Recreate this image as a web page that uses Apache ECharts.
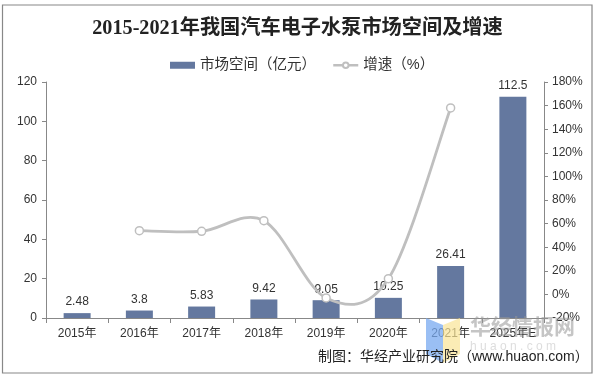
<!DOCTYPE html>
<html>
<head>
<meta charset="utf-8">
<style>
html,body{margin:0;padding:0;background:#fff;}
#graph{width:595px;height:376px;}
</style>
<script src="https://cdn.jsdelivr.net/npm/echarts@6/dist/echarts.min.js"></script>
</head>
<body>
<div id="graph"></div>
<script>
var categories = ['2015年','2016年','2017年','2018年','2019年','2020年','2021年','2025年E'];
var marketSize = [2.48,3.8,5.83,9.42,9.05,10.25,26.41,112.5];
var growthRate = [null,54,53.5,62.5,-3,13.3,158,null];

var fontName = '"Liberation Sans","Noto Sans CJK SC",sans-serif';
var lineColor = '#bfbfbf';
var myChart = echarts.init(document.getElementById('graph'));

// the source chart has spreadsheet style smoothing, it overshoots around the points
// the line series clamps its curve, so the curve is drawn here from the same values
function renderCurve(params, api) {
	if (params.dataIndex !== 0) {
		return null;
	}
	var pts = [];
	for (let i = 0; i < growthRate.length; i++) {
		if (growthRate[i] !== null) {
			pts.push(api.coord([i, growthRate[i]]));
		}
	}
	var d = 'M' + pts[0][0] + ' ' + pts[0][1];
	for (let i = 0; i < pts.length - 1; i++) {
		var p0 = pts[Math.max(i - 1, 0)];
		var p1 = pts[i];
		var p2 = pts[i + 1];
		var p3 = pts[Math.min(i + 2, pts.length - 1)];
		d += 'C' + (p1[0] + (p2[0] - p0[0]) / 6) + ' ' + (p1[1] + (p2[1] - p0[1]) / 6)
			+ ' ' + (p2[0] - (p3[0] - p1[0]) / 6) + ' ' + (p2[1] - (p3[1] - p1[1]) / 6)
			+ ' ' + p2[0] + ' ' + p2[1];
	}
	return {
		type: 'path',
		shape: {pathData: d, layout: 'cover'},
		style: {fill: 'none', stroke: lineColor, lineWidth: 2.8}
	};
}

myChart.setOption({
	animation: false,
	backgroundColor: '#fff',
	textStyle: {fontFamily: fontName},
	title: {
		text: '2015-2021年我国汽车电子水泵市场空间及增速',
		left: 'center',
		top: 14,
		textStyle: {
			fontFamily: '"Liberation Serif","Noto Sans CJK SC",serif',
			fontSize: 20.2,
			fontWeight: 'bold',
			color: '#222'
		}
	},
	legend: {
		top: 53,
		left: 165,
		itemWidth: 25,
		itemHeight: 7,
		itemGap: 16,
		textStyle: {fontSize: 14.5, color: '#333', fontFamily: fontName},
		data: [
			{name: '市场空间（亿元）', icon: 'rect'},
			{name: '增速（%）', lineStyle: {color: lineColor, width: 2.5, opacity: 1}}
		]
	},
	grid: {left: 46, right: 51, top: 82, bottom: 58},
	xAxis: {
		type: 'category',
		data: categories,
		axisLine: {lineStyle: {color: '#888'}},
		axisTick: {show: true, alignWithLabel: false, length: 5, lineStyle: {color: '#888'}},
		axisLabel: {color: '#333', fontSize: 12, margin: 10, interval: 0}
	},
	yAxis: [
		{
			type: 'value',
			min: 0,
			max: 120,
			interval: 20,
			splitLine: {show: false},
			axisLine: {show: true, lineStyle: {color: '#888'}},
			axisTick: {show: true, length: 4, lineStyle: {color: '#888'}},
			axisLabel: {color: '#333', fontSize: 12, margin: 9}
		},
		{
			type: 'value',
			min: -20,
			max: 180,
			interval: 20,
			position: 'right',
			splitLine: {show: false},
			axisLine: {show: true, lineStyle: {color: '#888'}},
			axisTick: {show: true, length: 4, lineStyle: {color: '#888'}},
			axisLabel: {color: '#333', fontSize: 12, margin: 8, formatter: '{value}%'}
		}
	],
	series: [
		{
			name: '市场空间（亿元）',
			type: 'bar',
			data: marketSize,
			barWidth: 27,
			itemStyle: {color: '#64789f'},
			label: {show: true, position: 'top', distance: 5, color: '#333', fontSize: 12}
		},
		{
			name: 'curve',
			type: 'custom',
			yAxisIndex: 1,
			coordinateSystem: 'cartesian2d',
			renderItem: renderCurve,
			data: growthRate.map(function (v, i) { return [i, v]; }).filter(function (d) { return d[1] !== null; }),
			encode: {x: 0, y: 1},
			silent: true,
			clip: false,
			z: 4
		},
		{
			name: '增速（%）',
			type: 'line',
			yAxisIndex: 1,
			data: growthRate,
			symbol: 'circle',
			symbolSize: 8,
			showSymbol: true,
			connectNulls: false,
			lineStyle: {color: lineColor, width: 0},
			itemStyle: {color: '#fff', borderColor: lineColor, borderWidth: 1.5},
			z: 5
		}
	],
	graphic: [
		// outer frame
		{type: 'rect', shape: {x: 2.5, y: 5, width: 589.5, height: 368}, style: {fill: 'none', stroke: '#888', lineWidth: 1.2}, z: 0, silent: true},
		// watermark logo
		{type: 'polygon', shape: {points: [[426,318],[443,325],[443,363],[426,354]]}, style: {fill: 'rgba(120,170,240,0.75)'}, z: 1, silent: true},
		{type: 'polygon', shape: {points: [[443,325],[460,318],[460,354],[443,363]]}, style: {fill: 'rgba(250,228,150,0.7)'}, z: 1, silent: true},
		{type: 'text', x: 470, y: 316, style: {text: '华经情报网', fill: 'rgba(150,150,150,0.55)', fontSize: 21, fontWeight: 'bold', fontFamily: '"Noto Sans CJK SC",sans-serif'}, z: 20, silent: true},
		{type: 'text', x: 470, y: 341, style: {text: 'h u a o n . c o m', fill: 'rgba(170,170,170,0.4)', fontSize: 12, fontFamily: fontName}, z: 20, silent: true},
		{type: 'text', x: 318, y: 350, style: {text: '制图：华经产业研究院（www.huaon.com）', fill: '#222', fontSize: 14, fontFamily: fontName}, z: 21, silent: true}
	]
});
</script>
</body>
</html>
